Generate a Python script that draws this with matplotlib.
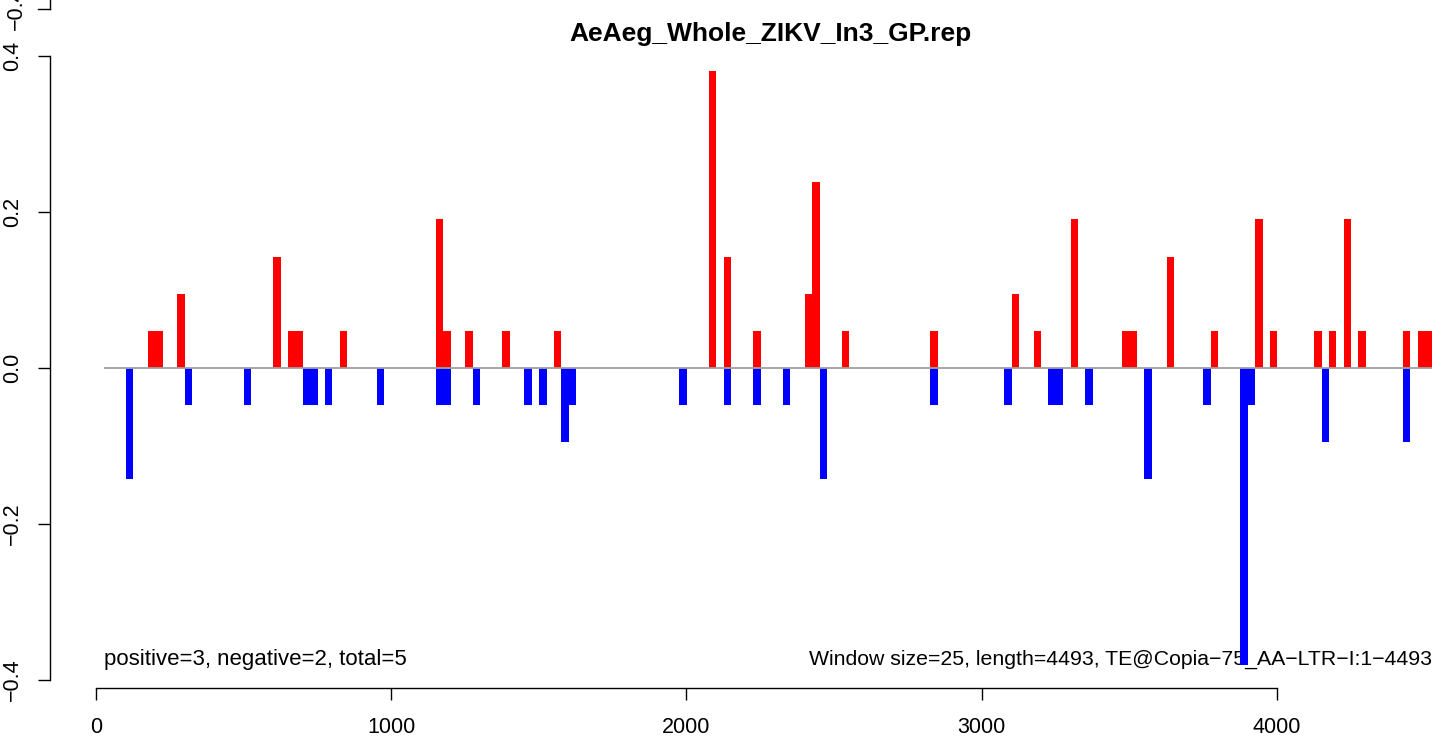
import matplotlib
matplotlib.use("Agg")
import matplotlib.pyplot as plt
import numpy as np

plt.rcParams['font.family'] = ['Liberation Sans', 'DejaVu Sans']

title = "AeAeg_Whole_ZIKV_In3_GP.rep"
left_note = "positive=3, negative=2, total=5"
right_note = "Window size=25, length=4493, TE@Copia\u221275_AA\u2212LTR\u2212I:1\u22124493"

window = 25
seq_length = 4493

pos_start = [176, 201, 276, 601, 651, 676, 826, 1151, 1176, 1251, 1376, 1551,
             2076, 2126, 2226, 2401, 2426, 2526, 2826, 3101, 3176, 3301, 3476,
             3501, 3626, 3776, 3926, 3976, 4126, 4176, 4226, 4276, 4426, 4476, 4501]
pos_val = [0.0476, 0.0476, 0.0952, 0.1429, 0.0476, 0.0476, 0.0476, 0.1905, 0.0476,
           0.0476, 0.0476, 0.0476, 0.381, 0.1429, 0.0476, 0.0952, 0.2381, 0.0476,
           0.0476, 0.0952, 0.0476, 0.1905, 0.0476, 0.0476, 0.1429, 0.0476, 0.1905,
           0.0476, 0.0476, 0.0476, 0.1905, 0.0476, 0.0476, 0.0476, 0.0476]

neg_start = [101, 301, 501, 701, 726, 776, 951, 1151, 1176, 1276, 1451, 1501,
             1576, 1601, 1976, 2126, 2226, 2326, 2451, 2826, 3076, 3226, 3251,
             3351, 3551, 3751, 3876, 3901, 4151, 4426]
neg_val = [-0.1429, -0.0476, -0.0476, -0.0476, -0.0476, -0.0476, -0.0476, -0.0476,
           -0.0476, -0.0476, -0.0476, -0.0476, -0.0952, -0.0476, -0.0476, -0.0476,
           -0.0476, -0.0476, -0.1429, -0.0476, -0.0476, -0.0476, -0.0476, -0.0476,
           -0.1429, -0.0476, -0.381, -0.0476, -0.0952, -0.0952]

x_ticks = [0, 1000, 2000, 3000, 4000]
y_ticks = [-0.4, -0.2, 0.0, 0.2, 0.4]
y_ticklabels = ["\u22120.4", "\u22120.2", "0.0", "0.2", "0.4"]

W, H = 1441, 737
fig = plt.figure(figsize=(W / 100, H / 100), dpi=100)
ax = fig.add_axes([0, 0, 1, 1])
ax.patch.set_alpha(0)

# pixel-calibrated limits (0 -> px 96, 4000 -> px 1277; 0.4 -> px 56, -0.4 -> px 680)
xs = 1181 / 4000.0
xmin = -96 / xs
ax.set_xlim(xmin, xmin + W / xs)
ys = 624 / 0.8
ytop = 0.4 + 56 / ys
ax.set_ylim(ytop - H / ys, ytop)

ax.bar(pos_start, pos_val, width=window, align='edge', color='#FF0000',
       linewidth=0, zorder=3)
ax.bar(neg_start, neg_val, width=window, align='edge', color='#0000FF',
       linewidth=0, zorder=3)

base_x0 = 1 + window
base_x1 = max(pos_start + neg_start) + window
ax.plot([base_x0, base_x1], [0, 0], color='#A0A0A0', lw=1.3, zorder=4,
        solid_capstyle='butt')

# axes styled like R base graphics
for s in ['top', 'right']:
    ax.spines[s].set_visible(False)
ax.spines['left'].set_position(('axes', 50 / W))
ax.spines['left'].set_bounds(-0.4, 0.4)
ax.spines['bottom'].set_position(('axes', (H - 688) / H))
ax.spines['bottom'].set_bounds(0, 4000)
for s in ['left', 'bottom']:
    ax.spines[s].set_linewidth(1.0)

ax.set_xticks(x_ticks)
ax.set_xticklabels([str(t) for t in x_ticks], fontsize=15.5)
ax.set_yticks(y_ticks)
ax.set_yticklabels(y_ticklabels, fontsize=15.5, rotation=90, va='center')
ax.tick_params(axis='both', direction='out', length=8.6, width=1.0, color='black')
ax.tick_params(axis='x', pad=12)
ax.tick_params(axis='y', pad=11)

# remnant of an axis above (cut off at the top edge)
ytr = ax.get_yaxis_transform()
y_rem = ytop - 9 / ys
ax.plot([50 / W, 50 / W], [ytop, y_rem], color='black', lw=1.0,
        transform=ytr, clip_on=False)
ax.plot([38 / W, 50 / W], [y_rem, y_rem], color='black', lw=1.0,
        transform=ytr, clip_on=False)
ax.text(16 / W, y_rem, "\u22120.4", rotation=90, fontsize=15.5, ha='center',
        va='center', transform=ytr)

fig.text(770 / W, 1 - 41 / H, title, fontsize=19, fontweight='bold',
         ha='center', va='baseline')

y_note = ytop - 665 / ys
ax.text(base_x0, y_note, left_note, fontsize=16, ha='left', va='baseline', zorder=2)
ax.text(base_x1, y_note, right_note, fontsize=15.3, ha='right', va='baseline', zorder=2)

fig.savefig("out.png", dpi=100)
